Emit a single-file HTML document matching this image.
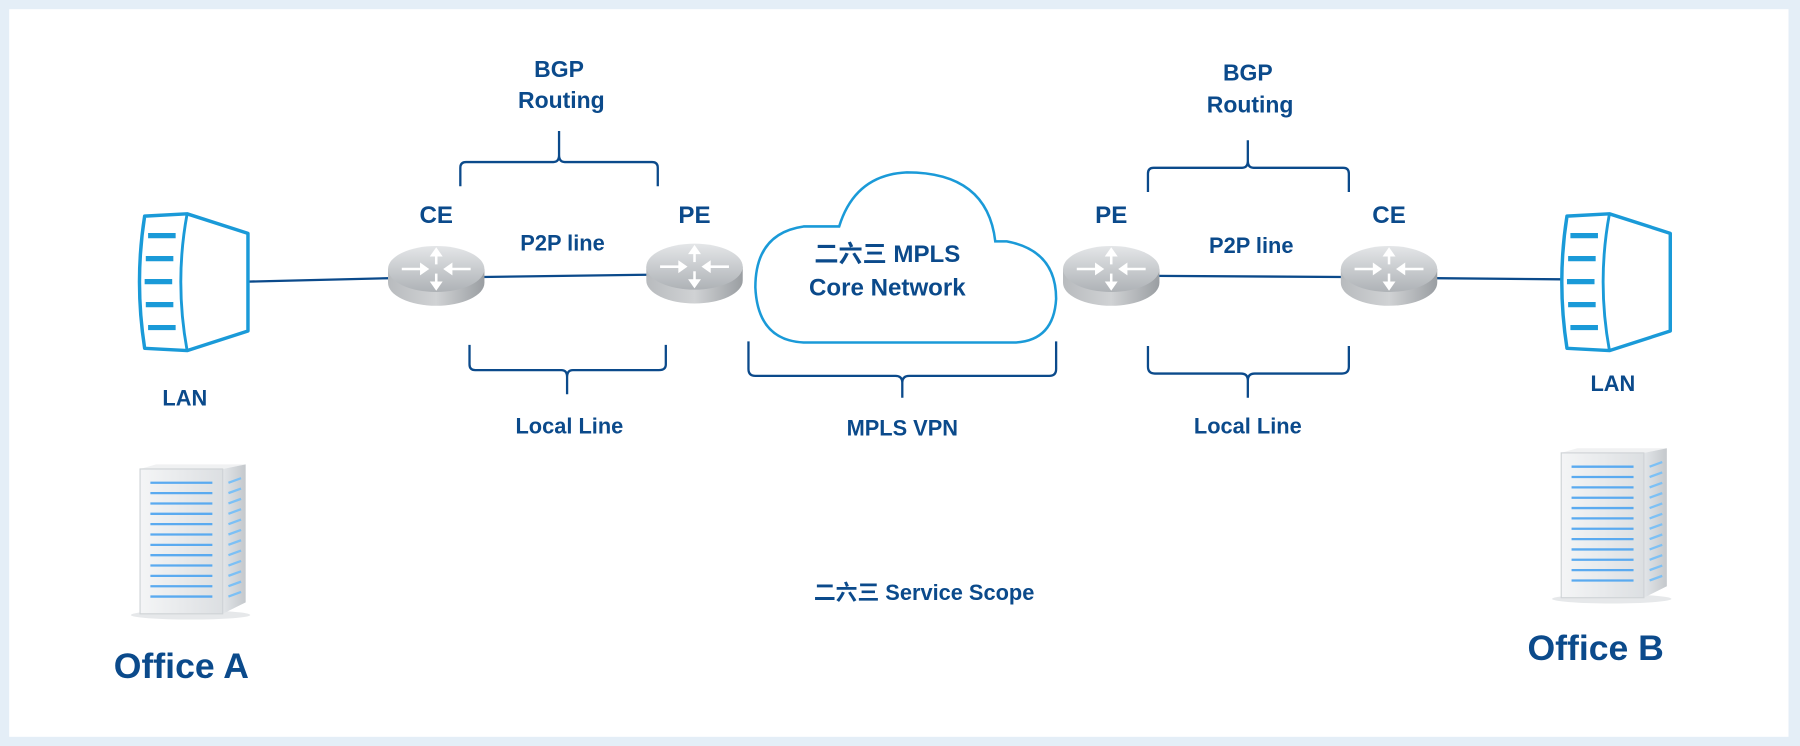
<!DOCTYPE html>
<html><head><meta charset="utf-8"><style>
html,body{margin:0;padding:0;background:#fff;}
svg{display:block;}
text{font-family:"Liberation Sans","Noto Sans CJK SC",sans-serif;font-weight:bold;fill:#0b4a8b;text-anchor:middle;}
</style></head><body>
<svg width="1800" height="746" viewBox="0 0 1568 649" preserveAspectRatio="none" xmlns="http://www.w3.org/2000/svg">
<defs>
<linearGradient id="rt" x1="0" y1="0" x2="0" y2="1"><stop offset="0" stop-color="#e4e6e8"/><stop offset="1" stop-color="#aeb2b6"/></linearGradient>
<linearGradient id="rs" x1="0" y1="0" x2="1" y2="0"><stop offset="0" stop-color="#b8bbbe"/><stop offset="0.5" stop-color="#d0d2d4"/><stop offset="1" stop-color="#9a9ea2"/></linearGradient>
<linearGradient id="sf" x1="0" y1="0" x2="1" y2="0"><stop offset="0" stop-color="#f4f5f6"/><stop offset="1" stop-color="#dcdfe2"/></linearGradient>
<linearGradient id="ss" x1="0" y1="0" x2="1" y2="0"><stop offset="0" stop-color="#e2e5e8"/><stop offset="1" stop-color="#c4c8cc"/></linearGradient>
<g id="router">
<path d="M-42,0 L-42,12 A42,20 0 0 0 42,12 L42,0 Z" fill="url(#rs)"/>
<ellipse cx="0" cy="0" rx="42" ry="20" fill="url(#rt)"/>
<g stroke="#fff" stroke-width="2.2" fill="#fff">
<line x1="-30" y1="0" x2="-10" y2="0"/><polygon points="-8,0 -13,-3.5 -13,3.5"/>
<line x1="30" y1="0" x2="10" y2="0"/><polygon points="8,0 13,-3.5 13,3.5"/>
<line x1="0" y1="-4" x2="0" y2="-15"/><polygon points="0,-17 -3.5,-12 3.5,-12"/>
<line x1="0" y1="4" x2="0" y2="15"/><polygon points="0,17 -3.5,12 3.5,12"/>
</g></g>
<g id="fw">
<path d="M7,2 L44,0 L97,17 L97,102 L44,119 L7,117 Q-2,59 7,2 Z" fill="#fff" stroke="#1a9ad8" stroke-width="3" stroke-linejoin="round"/>
<path d="M44,0 Q33,59 44,119" fill="none" stroke="#1a9ad8" stroke-width="2.5"/>
<g stroke="#1a9ad8" stroke-width="4.5"><line x1="10" y1="19" x2="34" y2="19"/><line x1="8" y1="39" x2="32" y2="39"/><line x1="7" y1="59" x2="31" y2="59"/><line x1="8" y1="79" x2="32" y2="79"/><line x1="10" y1="99" x2="34" y2="99"/></g>
</g>
<g id="srv">
<ellipse cx="48" cy="133" rx="52" ry="4" fill="#e6e8ea"/>
<polygon points="4,6 18,2 96,2 76,6" fill="#f0f1f2"/>
<polygon points="76,6 96,2 96,122 76,132" fill="url(#ss)"/>
<rect x="4" y="6" width="72" height="126" fill="url(#sf)" stroke="#cfd3d6"/>
<g stroke="#5aaaf0" stroke-width="2">
<line x1="13" y1="18" x2="67" y2="18"/><line x1="13" y1="27" x2="67" y2="27"/><line x1="13" y1="36" x2="67" y2="36"/><line x1="13" y1="45" x2="67" y2="45"/><line x1="13" y1="54" x2="67" y2="54"/><line x1="13" y1="63" x2="67" y2="63"/><line x1="13" y1="72" x2="67" y2="72"/><line x1="13" y1="81" x2="67" y2="81"/><line x1="13" y1="90" x2="67" y2="90"/><line x1="13" y1="99" x2="67" y2="99"/><line x1="13" y1="108" x2="67" y2="108"/><line x1="13" y1="117" x2="67" y2="117"/>
</g>
<g stroke="#7cc0f5" stroke-width="2">
<line x1="81" y1="18" x2="92" y2="14"/><line x1="81" y1="27" x2="92" y2="23"/><line x1="81" y1="36" x2="92" y2="32"/><line x1="81" y1="45" x2="92" y2="41"/><line x1="81" y1="54" x2="92" y2="50"/><line x1="81" y1="63" x2="92" y2="59"/><line x1="81" y1="72" x2="92" y2="68"/><line x1="81" y1="81" x2="92" y2="77"/><line x1="81" y1="90" x2="92" y2="86"/><line x1="81" y1="99" x2="92" y2="95"/><line x1="81" y1="108" x2="92" y2="104"/><line x1="81" y1="117" x2="92" y2="113"/>
</g></g>
</defs>
<rect x="0" y="0" width="1568" height="649" fill="#e4eef7"/>
<rect x="8" y="8" width="1550" height="633" fill="#fff"/>

<g stroke="#0b4a8b" stroke-width="2" fill="none">
<line x1="216" y1="245" x2="340" y2="242"/>
<line x1="420" y1="241" x2="565" y2="239"/>
<line x1="1008" y1="240" x2="1170" y2="241"/>
<line x1="1250" y1="242" x2="1360" y2="243"/>
</g>

<g stroke="#0b4a8b" stroke-width="2" fill="none">
<path d="M401,162 L401,146 Q401,141 406,141 L482,141 Q487,141 487,135 L487,114 M487,135 Q487,141 492,141 L568,141 Q573,141 573,146 L573,162"/>
<path d="M409,300 L409,317 Q409,322 414,322 L489,322 Q494,322 494,328 L494,343 M494,328 Q494,322 499,322 L574,322 Q580,322 580,317 L580,300"/>
<path d="M652,297 L652,321 Q652,327 658,327 L780,327 Q786,327 786,333 L786,346 M786,333 Q786,327 792,327 L914,327 Q920,327 920,321 L920,297"/>
<path d="M1000,167 L1000,151 Q1000,146 1005,146 L1082,146 Q1087,146 1087,140 L1087,122 M1087,140 Q1087,146 1092,146 L1170,146 Q1175,146 1175,151 L1175,167"/>
<path d="M1000,301 L1000,319 Q1000,325 1006,325 L1081,325 Q1087,325 1087,331 L1087,346 M1087,331 Q1087,325 1093,325 L1169,325 Q1175,325 1175,319 L1175,301"/>
</g>

<path d="M700,298 Q660,296 658,250 Q658,203 700,197 L705,197 L731,197 Q745,152 790,150 Q860,150 867,210 L877,210 Q920,218 920,260 Q918,296 885,298 Z" fill="#fff" stroke="#1a9ad8" stroke-width="2.2"/>

<use href="#router" x="380" y="234"/>
<use href="#router" x="605" y="232"/>
<use href="#router" x="968" y="234"/>
<use href="#router" x="1210" y="234"/>

<use href="#fw" x="119" y="186"/>
<use href="#fw" x="1358" y="186"/>

<use href="#srv" x="118" y="402"/>
<use href="#srv" x="1356" y="388"/>

<text x="487" y="67" font-size="20">BGP</text>
<text x="489" y="94" font-size="20">Routing</text>
<text x="1087" y="70" font-size="20">BGP</text>
<text x="1089" y="98" font-size="20">Routing</text>
<text x="380" y="194" font-size="21">CE</text>
<text x="605" y="194" font-size="21">PE</text>
<text x="968" y="194" font-size="21">PE</text>
<text x="1210" y="194" font-size="21">CE</text>
<text x="490" y="218" font-size="19">P2P line</text>
<text x="1090" y="220" font-size="19">P2P line</text>
<text x="773" y="228" font-size="21">二六三 MPLS</text>
<text x="773" y="257" font-size="21">Core Network</text>
<text x="496" y="377" font-size="19">Local Line</text>
<text x="786" y="379" font-size="19">MPLS VPN</text>
<text x="1087" y="377" font-size="19">Local Line</text>
<text x="161" y="353" font-size="19">LAN</text>
<text x="1405" y="340" font-size="19">LAN</text>
<text x="805" y="522" font-size="19">二六三 Service Scope</text>
<text x="158" y="590" font-size="31">Office A</text>
<text x="1390" y="574" font-size="31">Office B</text>
</svg>
</body></html>
